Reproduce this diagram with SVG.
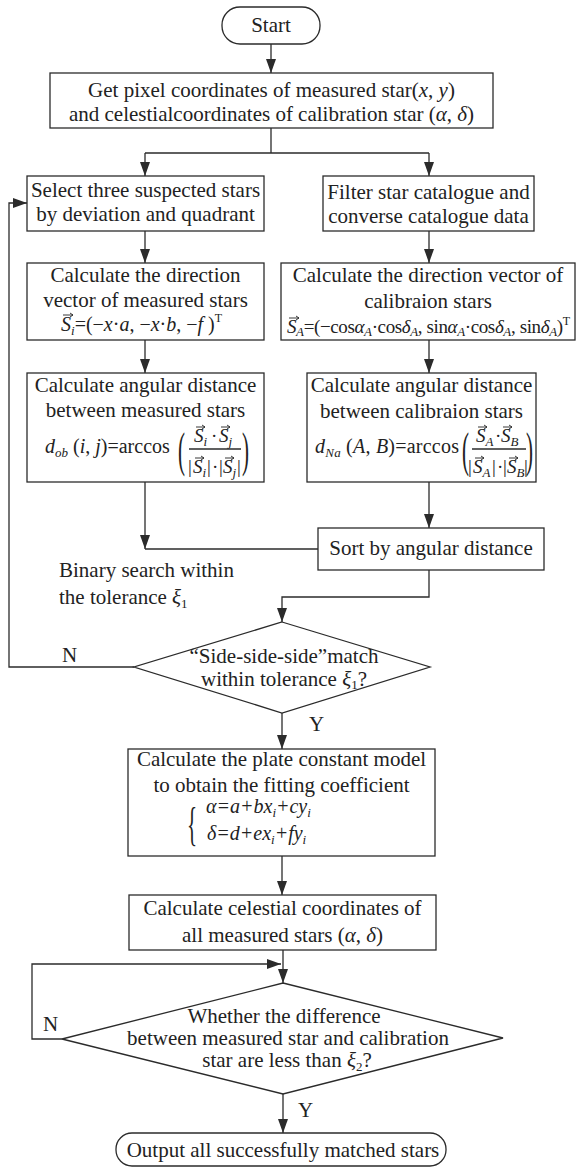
<svg xmlns="http://www.w3.org/2000/svg" width="576" height="1167" viewBox="0 0 576 1167">
<style>
.box{fill:#fff;stroke:#2b2b2b;stroke-width:1.3}
.ln{fill:none;stroke:#2b2b2b;stroke-width:1.3}
.va{fill:none;stroke:#222;stroke-width:0.9}
.t{font-family:"Liberation Serif","Times New Roman",serif;font-size:21px;fill:#222}
.f{font-size:20px}
.fr{font-size:19px}
.c{text-anchor:middle}
.i{font-style:italic}
.sub{font-size:13px;font-style:italic}
.subr{font-size:13px}
</style>
<defs>
<marker id="ah" markerUnits="userSpaceOnUse" markerWidth="14" markerHeight="10" viewBox="0 0 14 10" refX="14" refY="5" orient="auto">
<path d="M0,0 L14,5 L0,10 z" fill="#2b2b2b"/>
</marker>
</defs>

<g id="connectors">
<path class="ln" d="M271,44 V73" marker-end="url(#ah)"/>
<path class="ln" d="M271,128 V153 M145,153 H429"/>
<path class="ln" d="M145,153 V176" marker-end="url(#ah)"/>
<path class="ln" d="M429,153 V176" marker-end="url(#ah)"/>
<path class="ln" d="M145,231 V263" marker-end="url(#ah)"/>
<path class="ln" d="M429,231 V263" marker-end="url(#ah)"/>
<path class="ln" d="M145,340 V373" marker-end="url(#ah)"/>
<path class="ln" d="M429,340 V373" marker-end="url(#ah)"/>
<path class="ln" d="M145,482 V549" marker-end="url(#ah)"/>
<path class="ln" d="M318,549 H145"/>
<path class="ln" d="M429,482 V528" marker-end="url(#ah)"/>
<path class="ln" d="M429,570 V597 H282 V622" marker-end="url(#ah)"/>
<path class="ln" d="M134,667 H9 V203 H27" marker-end="url(#ah)"/>
<path class="ln" d="M282,713 V749" marker-end="url(#ah)"/>
<path class="ln" d="M282,856 V895" marker-end="url(#ah)"/>
<path class="ln" d="M283,950 V983" marker-end="url(#ah)"/>
<path class="ln" d="M62,1039 H32 V964 H281" marker-end="url(#ah)"/>
<path class="ln" d="M283,1094 V1133" marker-end="url(#ah)"/>
<text class="t" x="62" y="662">N</text>
<text class="t" x="309" y="731">Y</text>
<text class="t" x="43" y="1031">N</text>
<text class="t" x="298" y="1117">Y</text>
<text class="t" x="59" y="577">Binary search within</text>
<text class="t" x="59" y="604">the tolerance <tspan class="i">ξ</tspan><tspan class="subr" dy="4">1</tspan></text>
</g>

<g id="start">
<rect class="box" x="222" y="7" width="98" height="37" rx="18"/>
<text class="t c" x="271" y="32">Start</text>
</g>

<g id="get-coords">
<rect class="box" x="50" y="73" width="443" height="55"/>
<text class="t c" x="271.5" y="97">Get pixel coordinates of measured star(<tspan class="i">x</tspan>, <tspan class="i">y</tspan>)</text>
<text class="t c" x="271.5" y="121">and celestialcoordinates of calibration star (<tspan class="i">α</tspan>, <tspan class="i">δ</tspan>)</text>
</g>

<g id="select-stars">
<rect class="box" x="27" y="176" width="237" height="55"/>
<text class="t c" x="145.5" y="197">Select three suspected stars</text>
<text class="t c" x="145.5" y="221">by deviation and quadrant</text>
</g>

<g id="filter-catalogue">
<rect class="box" x="323" y="176" width="211" height="55"/>
<text class="t c" x="428.5" y="199">Filter star catalogue and</text>
<text class="t c" x="428.5" y="223">converse catalogue data</text>
</g>

<g id="dir-measured">
<rect class="box" x="27" y="263" width="237" height="77"/>
<text class="t c" x="145.5" y="282">Calculate the direction</text>
<text class="t c" x="145.5" y="307">vector of measured stars</text>
<text class="t f" x="61" y="331"><tspan class="i">S</tspan><tspan class="sub" dy="4">i</tspan><tspan dy="-4">=(−</tspan><tspan class="i">x</tspan>·<tspan class="i">a</tspan>, −<tspan class="i">x</tspan>·<tspan class="i">b</tspan>, −<tspan class="i">f</tspan> )<tspan font-size="12" dy="-9">T</tspan></text>
<path class="va" d="M63,315 H73 M70,313 L73,315 L70,317"/>
</g>

<g id="dir-calibration">
<rect class="box" x="281" y="263" width="294" height="77"/>
<text class="t c" x="428" y="282">Calculate the direction vector of</text>
<text class="t c" x="428" y="308">calibraion stars</text>
<text class="t fr" x="287" y="333" textLength="283" lengthAdjust="spacing"><tspan class="i">S</tspan><tspan class="sub" font-size="12" dy="3">A</tspan><tspan dy="-3">=(−cos</tspan><tspan class="i">α</tspan><tspan class="sub" font-size="12" dy="3">A</tspan><tspan dy="-3">·cos</tspan><tspan class="i">δ</tspan><tspan class="sub" font-size="12" dy="3">A</tspan><tspan dy="-3">, sin</tspan><tspan class="i">α</tspan><tspan class="sub" font-size="12" dy="3">A</tspan><tspan dy="-3">·cos</tspan><tspan class="i">δ</tspan><tspan class="sub" font-size="12" dy="3">A</tspan><tspan dy="-3">, sin</tspan><tspan class="i">δ</tspan><tspan class="sub" font-size="12" dy="3">A</tspan><tspan dy="-3">)</tspan><tspan font-size="12" dy="-8">T</tspan></text>
<path class="va" d="M289,318 H299 M296,316 L299,318 L296,320"/>
</g>

<g id="ang-measured">
<rect class="box" x="27" y="373" width="237" height="109"/>
<text class="t c" x="145.5" y="392">Calculate angular distance</text>
<text class="t c" x="145.5" y="417">between measured stars</text>
<text class="t f" x="45" y="453"><tspan class="i">d</tspan><tspan class="sub" dy="4">ob</tspan><tspan dy="-4"> (</tspan><tspan class="i">i</tspan>, <tspan class="i">j</tspan>)=arccos</text>
<text class="t" font-size="24" transform="translate(178,466) scale(1,2.3)" x="0" y="0">(</text>
<text class="t" font-size="24" transform="translate(242,466) scale(1,2.3)" x="0" y="0">)</text>
<text class="t fr" y="442"><tspan x="194" class="i">S</tspan><tspan class="sub" font-size="12" dy="4">i</tspan><tspan dy="-4" x="211">·</tspan><tspan x="219" class="i">S</tspan><tspan class="sub" font-size="12" dy="4">j</tspan></text>
<path class="va" d="M196,427 H205 M202,425 L205,427 L202,429 M221,427 H230 M227,425 L230,427 L227,429"/>
<path class="ln" d="M189,449 H241" stroke-width="1"/>
<text class="t fr" y="473"><tspan x="188">|</tspan><tspan x="193" class="i">S</tspan><tspan class="sub" font-size="12" dy="4">i</tspan><tspan dy="-4" x="207">|</tspan><tspan x="212">·</tspan><tspan x="219">|</tspan><tspan x="223" class="i">S</tspan><tspan class="sub" font-size="12" dy="4">j</tspan><tspan dy="-4" x="237">|</tspan></text>
<path class="va" d="M195,458 H204 M201,456 L204,458 L201,460 M225,458 H234 M231,456 L234,458 L231,460"/>
</g>

<g id="ang-calibration">
<rect class="box" x="307" y="373" width="229" height="109"/>
<text class="t c" x="421.5" y="392">Calculate angular distance</text>
<text class="t c" x="421.5" y="418">between calibraion stars</text>
<text class="t f" x="315" y="453" textLength="144" lengthAdjust="spacing"><tspan class="i">d</tspan><tspan class="sub" dy="4">Na</tspan><tspan dy="-4"> (</tspan><tspan class="i">A</tspan>, <tspan class="i">B</tspan>)=arccos</text>
<text class="t" font-size="24" transform="translate(462,466) scale(1,2.3)" x="0" y="0">(</text>
<text class="t" font-size="24" transform="translate(526,466) scale(1,2.3)" x="0" y="0">)</text>
<text class="t fr" y="442"><tspan x="476" class="i">S</tspan><tspan class="sub" font-size="12" dy="4">A</tspan><tspan dy="-4" x="495">·</tspan><tspan x="501" class="i">S</tspan><tspan class="sub" font-size="12" dy="4">B</tspan></text>
<path class="va" d="M478,427 H487 M484,425 L487,427 L484,429 M503,427 H512 M509,425 L512,427 L509,429"/>
<path class="ln" d="M472,449 H526" stroke-width="1"/>
<text class="t fr" y="473"><tspan x="468">|</tspan><tspan x="473" class="i">S</tspan><tspan class="sub" font-size="12" dy="4">A</tspan><tspan dy="-4" x="492">|</tspan><tspan x="497">·</tspan><tspan x="503">|</tspan><tspan x="507" class="i">S</tspan><tspan class="sub" font-size="12" dy="4">B</tspan><tspan dy="-4" x="524">|</tspan></text>
<path class="va" d="M475,458 H484 M481,456 L484,458 L481,460 M509,458 H518 M515,456 L518,458 L515,460"/>
</g>

<g id="sort">
<rect class="box" x="318" y="528" width="226" height="42"/>
<text class="t c" x="431" y="555">Sort by angular distance</text>
</g>

<g id="match-decision">
<polygon class="box" points="282,622 430,667 282,713 134,667"/>
<text class="t c" x="284" y="663">“Side-side-side”match</text>
<text class="t c" x="284" y="686">within tolerance <tspan class="i">ξ</tspan><tspan class="subr" dy="3">1</tspan><tspan dy="-3">?</tspan></text>
</g>

<g id="plate-model">
<rect class="box" x="128" y="749" width="307" height="107"/>
<text class="t c" x="281.5" y="766">Calculate the plate constant model</text>
<text class="t c" x="281.5" y="792">to obtain the fitting coefficient</text>
<text class="t" font-size="24" transform="translate(187,840) scale(1,2.2)" x="0" y="0">{</text>
<text class="t f i" x="206" y="813">α=a+bx<tspan class="sub" dy="4">i</tspan><tspan dy="-4">+cy</tspan><tspan class="sub" dy="4">i</tspan></text>
<text class="t f i" x="207" y="840">δ=d+ex<tspan class="sub" dy="4">i</tspan><tspan dy="-4">+fy</tspan><tspan class="sub" dy="4">i</tspan></text>
</g>

<g id="celestial-coords">
<rect class="box" x="129" y="895" width="307" height="55"/>
<text class="t c" x="282.5" y="915">Calculate celestial coordinates of</text>
<text class="t c" x="282.5" y="942">all measured stars (<tspan class="i">α</tspan>, <tspan class="i">δ</tspan>)</text>
</g>

<g id="diff-decision">
<polygon class="box" points="283,983 503,1038 283,1094 62,1039"/>
<text class="t c" x="284" y="1023">Whether the difference</text>
<text class="t c" x="288" y="1045">between measured star and calibration</text>
<text class="t c" x="287" y="1067">star are less than <tspan class="i">ξ</tspan><tspan class="subr" dy="4">2</tspan><tspan dy="-4">?</tspan></text>
</g>

<g id="end">
<rect class="box" x="116" y="1133" width="330" height="33" rx="16"/>
<text class="t c" x="283" y="1157">Output all successfully matched stars</text>
</g>
</svg>
